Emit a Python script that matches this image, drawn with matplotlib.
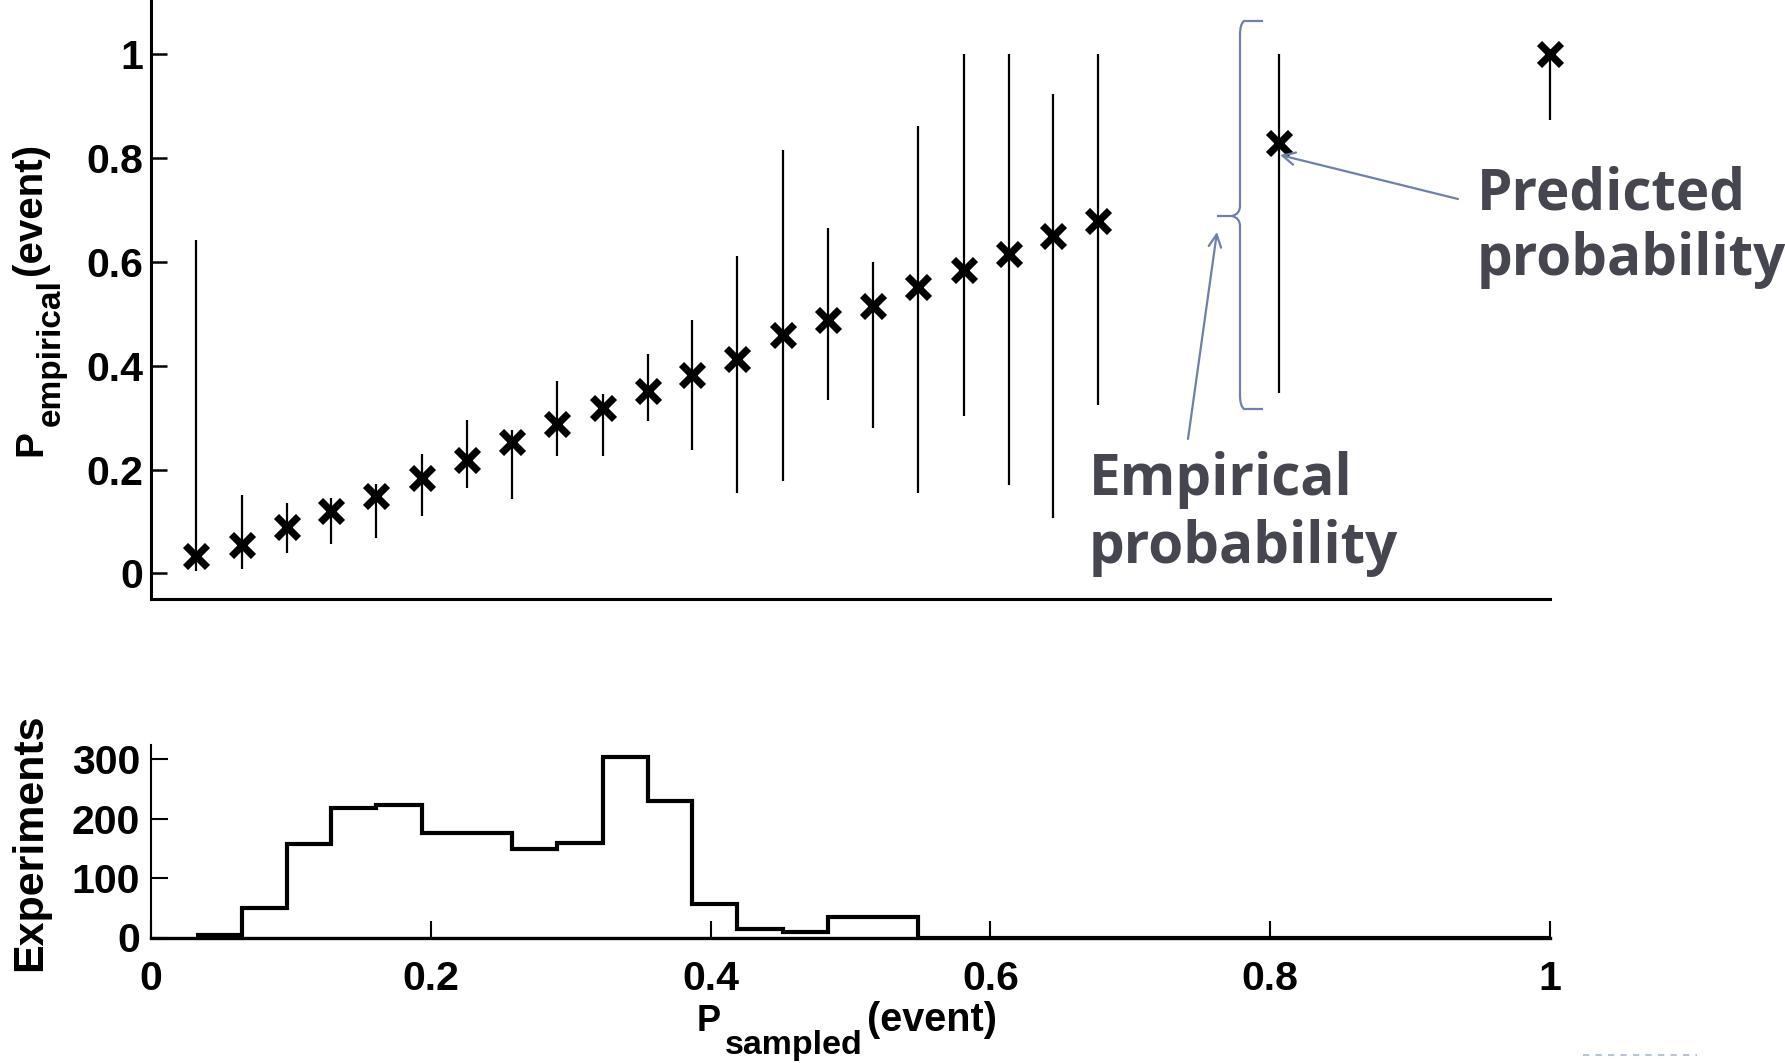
import matplotlib
matplotlib.use("Agg")
import matplotlib.pyplot as plt
from matplotlib.path import Path
from matplotlib.patches import PathPatch
from matplotlib.lines import Line2D

plt.rcParams['font.family'] = ['Liberation Sans', 'DejaVu Sans']
plt.rcParams['font.weight'] = 'bold'

# ---------------- data ----------------
p_sampled = [0.032, 0.065, 0.097, 0.129, 0.161, 0.194, 0.226, 0.258, 0.290, 0.323,
             0.355, 0.387, 0.419, 0.452, 0.484, 0.516, 0.548, 0.581, 0.613, 0.645,
             0.677, 0.806, 1.000]
p_predicted = [0.034, 0.055, 0.089, 0.120, 0.150, 0.184, 0.219, 0.253, 0.287, 0.318,
               0.352, 0.383, 0.413, 0.459, 0.489, 0.516, 0.552, 0.585, 0.615, 0.651,
               0.680, 0.829, 1.000]
emp_low = [0.005, 0.009, 0.040, 0.056, 0.069, 0.110, 0.164, 0.143, 0.226, 0.226,
           0.293, 0.238, 0.154, 0.178, 0.335, 0.281, 0.154, 0.304, 0.171, 0.106,
           0.324, 0.347, 0.873]
emp_high = [0.642, 0.152, 0.135, 0.146, 0.173, 0.230, 0.296, 0.276, 0.370, 0.345,
            0.423, 0.489, 0.611, 0.816, 0.665, 0.600, 0.863, 1.000, 1.000, 0.924,
            1.000, 1.000, 1.000]

hist_edges = [0.032, 0.065, 0.097, 0.129, 0.161, 0.194, 0.226, 0.258, 0.290, 0.323,
              0.355, 0.387, 0.419, 0.452, 0.484, 0.516, 0.548, 0.581, 0.613, 0.645,
              0.677, 0.710, 0.742, 0.774, 0.806, 0.839, 0.871, 0.903, 0.935, 0.968,
              1.000]
hist_counts = [4, 50, 157, 218, 223, 176, 176, 149, 159, 303,
               229, 56, 15, 9, 35, 35, 0, 0, 0, 0,
               0, 0, 0, 0, 0, 0, 0, 0, 0, 0]

x_ticks = [0, 0.2, 0.4, 0.6, 0.8, 1]
x_ticklabels = ['0', '0.2', '0.4', '0.6', '0.8', '1']
y1_ticks = [0, 0.2, 0.4, 0.6, 0.8, 1]
y1_ticklabels = ['0', '0.2', '0.4', '0.6', '0.8', '1']
y2_ticks = [0, 100, 200, 300]
y2_ticklabels = ['0', '100', '200', '300']

W, H = 1785, 1063
fig = plt.figure(figsize=(W / 100, H / 100), dpi=100)
renderer = fig.canvas.get_renderer()

TICK_FS = 29.5


def fx(px):
    return px / W


def fy(py):
    return 1 - py / H


# ---------------- top axes ----------------
ax1 = fig.add_axes([151 / W, 1 - 598.8 / H, 1399 / W, 598.8 / H])
ax1.set_xlim(0, 1)
ax1.set_ylim(-0.049, 1.105)
for s in ['top', 'right']:
    ax1.spines[s].set_visible(False)
for s in ['left', 'bottom']:
    ax1.spines[s].set_linewidth(2.2)
ax1.set_xticks([])
ax1.set_yticks(y1_ticks)
ax1.set_yticklabels(y1_ticklabels)
ax1.tick_params(axis='y', direction='in', length=11.5, width=1.8, pad=5.5,
                labelsize=TICK_FS)

ax1.vlines(p_sampled, emp_low, emp_high, colors='k', linewidth=1.6, clip_on=False)
ax1.plot(p_sampled, p_predicted, linestyle='none', marker='x', color='k',
         markersize=16.5, markeredgewidth=5.2, clip_on=False)

# ---------------- bottom axes ----------------
ax2 = fig.add_axes([151 / W, 1 - 937.5 / H, 1399 / W, (937.5 - 745) / H])
ax2.set_xlim(0, 1)
ax2.set_ylim(0, 324)
for s in ['top', 'right']:
    ax2.spines[s].set_visible(False)
ax2.spines['bottom'].set_linewidth(2.4)
ax2.spines['left'].set_linewidth(1.5)
ax2.stairs(hist_counts, hist_edges, baseline=None, color='k', linewidth=3.0)
ax2.set_xticks(x_ticks)
ax2.set_xticklabels(x_ticklabels)
ax2.set_yticks(y2_ticks)
ax2.set_yticklabels(y2_ticklabels)
ax2.tick_params(axis='x', direction='in', length=12, width=1.5, pad=16,
                labelsize=TICK_FS)
ax2.tick_params(axis='y', direction='in', length=12, width=1.5, pad=8,
                labelsize=TICK_FS)


# ---------------- axis labels (composed: main, subscript, main) ----------------
def compose(parts, x0, y0, rotated=False, gap=4):
    """parts: (text, fontsize, baseline drop in px). x0,y0 = start of baseline (px, y from top)."""
    pos = 0.0
    for txt, size, drop in parts:
        if rotated:
            t = fig.text(fx(x0 + drop), fy(y0 - pos), txt, fontsize=size,
                         rotation=90, rotation_mode='anchor',
                         ha='left', va='baseline')
            pos += t.get_window_extent(renderer).height + gap
        else:
            t = fig.text(fx(x0 + pos), fy(y0 + drop), txt, fontsize=size,
                         ha='left', va='baseline')
            pos += t.get_window_extent(renderer).width + gap


compose([('P', 28, 0), ('empirical', 24, 19), ('(event)', 29, 0)],
        41, 456, rotated=True)
compose([('P', 26, 0), ('sampled', 24.5, 23), ('(event)', 28.5, 0)],
        697, 1031)
fig.text(30 / W, 1 - 842 / H, 'Experiments', rotation=90, ha='center', va='center',
         fontsize=31)

# ---------------- annotations ----------------
ann_text = '#45464f'
ann_line = '#6f80aa'
ann_font = dict(family=['Open Sans', 'DejaVu Sans'], fontweight='bold',
                fontsize=40.8, color=ann_text, ha='left', va='baseline')

fig.text(fx(1477), fy(209), 'Predicted', **ann_font)
fig.text(fx(1477), fy(275), 'probability', **ann_font)
fig.text(fx(1089), fy(495), 'Empirical', **ann_font)
fig.text(fx(1089), fy(563), 'probability', **ann_font)

arrow_kw = dict(arrowstyle='->,head_length=0.9,head_width=0.45', color=ann_line,
                lw=1.6, shrinkA=0, shrinkB=0)
ax1.annotate('', xy=(fx(1280), fy(155)), xycoords='figure fraction',
             xytext=(fx(1458), fy(199)), textcoords='figure fraction',
             arrowprops=arrow_kw)
ax1.annotate('', xy=(fx(1217), fy(232)), xycoords='figure fraction',
             xytext=(fx(1188), fy(439)), textcoords='figure fraction',
             arrowprops=arrow_kw)

# curly brace
bx, tip, hook = 1240, 1217, 1263
top, mid, bot = 21, 216, 409
verts = [
    (hook, top), (bx + 4, top), (bx, top + 3), (bx, top + 14),
    (bx, mid - 10), (bx, mid - 2), (bx - 8, mid), (tip, mid),
    (bx - 8, mid), (bx, mid + 2), (bx, mid + 10),
    (bx, bot - 14), (bx, bot - 3), (bx + 4, bot), (hook, bot),
]
codes = [Path.MOVETO, Path.LINETO, Path.CURVE3, Path.CURVE3,
         Path.LINETO, Path.CURVE3, Path.CURVE3, Path.LINETO,
         Path.MOVETO, Path.CURVE3, Path.CURVE3,
         Path.LINETO, Path.CURVE3, Path.CURVE3, Path.LINETO]
verts_fig = [(fx(x), fy(y)) for x, y in verts]
brace = PathPatch(Path(verts_fig, codes), transform=fig.transFigure,
                  facecolor='none', edgecolor=ann_line, lw=1.6)
fig.patches.append(brace)

# small dashed mark at bottom right
fig.add_artist(Line2D([fx(1583), fx(1697)], [fy(1055), fy(1055)],
                      transform=fig.transFigure, color='#b4c4da', lw=1.5,
                      linestyle=(0, (3, 3))))

fig.savefig('out.png', dpi=100)
